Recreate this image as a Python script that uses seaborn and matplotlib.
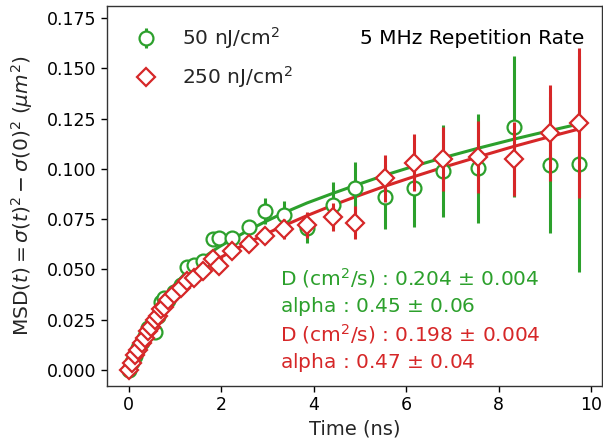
import numpy as np
import pandas as pd
import matplotlib
matplotlib.use("Agg")
import matplotlib.pyplot as plt
from matplotlib.lines import Line2D
import seaborn as sns

# ---- data ----
time_ns = [0.00, 0.07, 0.14, 0.21, 0.28, 0.35, 0.42, 0.49, 0.56, 0.63, 0.70, 0.77,
           0.84, 0.98, 1.12, 1.26, 1.40, 1.61, 1.82, 1.96, 2.24, 2.59, 2.94, 3.36,
           3.85, 4.41, 4.90, 5.53, 6.16, 6.79, 7.56, 8.33, 9.10, 9.73]

msd_50 = [0.000, 0.004, 0.007, 0.011, 0.014, 0.017, 0.021, 0.022, 0.019, 0.027, 0.034, 0.036,
          0.035, 0.039, 0.042, 0.051, 0.052, 0.054, 0.065, 0.0655, 0.0655, 0.071, 0.079, 0.077,
          0.0704, 0.082, 0.0903, 0.0859, 0.0903, 0.0991, 0.1003, 0.121, 0.1019, 0.1024]
err_50 = [0.000, 0.001, 0.001, 0.001, 0.001, 0.001, 0.001, 0.001, 0.001, 0.001, 0.0015, 0.0015,
          0.0015, 0.002, 0.002, 0.002, 0.002, 0.002, 0.003, 0.003, 0.003, 0.0036, 0.0063, 0.0071,
          0.0075, 0.0114, 0.0133, 0.0158, 0.019, 0.0229, 0.0271, 0.0351, 0.0339, 0.0537]

msd_250 = [0.000, 0.0035, 0.0075, 0.010, 0.0135, 0.016, 0.0195, 0.0215, 0.025, 0.027, 0.0305, 0.0315,
           0.035, 0.038, 0.0405, 0.044, 0.0455, 0.049, 0.055, 0.0515, 0.059, 0.0625, 0.0665, 0.070,
           0.072, 0.076, 0.0733, 0.0953, 0.1031, 0.1048, 0.1061, 0.1048, 0.1177, 0.1228]
err_250 = [0.000, 0.001, 0.001, 0.001, 0.001, 0.001, 0.001, 0.001, 0.001, 0.001, 0.001, 0.001,
           0.001, 0.0015, 0.0015, 0.0015, 0.002, 0.002, 0.002, 0.002, 0.003, 0.003, 0.004, 0.005,
           0.0066, 0.007, 0.0083, 0.0116, 0.0143, 0.016, 0.0179, 0.0185, 0.0239, 0.0373]

fit_50 = [0.000, 0.0037, 0.0074, 0.011, 0.0144, 0.0177, 0.021, 0.024, 0.027, 0.0298, 0.0325, 0.035,
          0.0374, 0.0418, 0.0456, 0.049, 0.052, 0.0558, 0.0592, 0.0613, 0.065, 0.0695, 0.0736, 0.0782,
          0.0830, 0.0878, 0.0918, 0.0968, 0.1013, 0.1055, 0.1103, 0.1148, 0.1190, 0.1223]
fit_250 = [0.000, 0.0035, 0.007, 0.0103, 0.0135, 0.0165, 0.0195, 0.0223, 0.025, 0.0275, 0.030, 0.0323,
           0.0345, 0.0385, 0.0418, 0.0448, 0.0474, 0.0507, 0.0537, 0.0556, 0.0592, 0.0634, 0.0674, 0.0718,
           0.0767, 0.0819, 0.0861, 0.0913, 0.0961, 0.1007, 0.106, 0.1112, 0.116, 0.1198]

labels = ["50 nJ/cm$^2$", "250 nJ/cm$^2$"]
fit_text = ["D (cm$^2$/s) : 0.204 $\\pm$ 0.004", "alpha : 0.45 $\\pm$ 0.06",
            "D (cm$^2$/s) : 0.198 $\\pm$ 0.004", "alpha : 0.47 $\\pm$ 0.04"]
title_text = "5 MHz Repetition Rate"

GREEN = "#2ca02c"
RED = "#d62728"

sns.set_style("ticks")
plt.rcParams["font.family"] = ["DejaVu Sans"]
plt.rcParams["mathtext.fontset"] = "dejavusans"

fig = plt.figure(figsize=(6.03, 4.44), dpi=100)
ax = fig.add_axes([107/603, 58/444, 495/603, 380/444])

fits = pd.DataFrame({"t": time_ns * 2,
                     "msd": fit_50 + fit_250,
                     "series": ["50"] * len(time_ns) + ["250"] * len(time_ns)})
sns.lineplot(data=fits, x="t", y="msd", hue="series", palette={"50": GREEN, "250": RED},
             lw=2.2, legend=False, ax=ax, zorder=2, sort=False)

eb50 = ax.errorbar(time_ns, msd_50, yerr=err_50, fmt="o", ms=10, mfc="white", mec=GREEN,
                   mew=1.6, ecolor=GREEN, elinewidth=2.2, capsize=0, zorder=3, color=GREEN)
eb250 = ax.errorbar(time_ns, msd_250, yerr=err_250, fmt="D", ms=9.5, mfc="white", mec=RED,
                    mew=1.6, ecolor=RED, elinewidth=2.2, capsize=0, zorder=4, color=RED)

h250 = Line2D([], [], ls="none", marker="D", ms=9.5, mfc="white", mec=RED, mew=1.6)
ax.legend([eb50, h250], labels, loc="upper left", frameon=False, fontsize=14.5,
          labelspacing=0.65, handletextpad=0.75, bbox_to_anchor=(0.0, 1.0),
          borderaxespad=0.55)

ax.text(0.965, 0.915, title_text, transform=ax.transAxes, ha="right", va="center",
        fontsize=14.5, color="black")
cols = [GREEN, GREEN, RED, RED]
ys = [278, 306, 334, 362]
for s, c, yp in zip(fit_text, cols, ys):
    ax.text((280 - 107) / 495, (386 - yp) / 380, s, transform=ax.transAxes, ha="left",
            va="center", fontsize=14.5, color=c)

ax.set_xlim(-0.47, 10.23)
ax.set_ylim(-0.008, 0.181)
ax.set_xticks([0, 2, 4, 6, 8, 10])
ax.set_yticks([0.0, 0.025, 0.05, 0.075, 0.1, 0.125, 0.15, 0.175])
ax.yaxis.set_major_formatter(matplotlib.ticker.FormatStrFormatter("%.3f"))
ax.tick_params(labelsize=12.5, length=4, width=1, colors="black")
ax.set_xlabel("Time (ns)", fontsize=14)
ax.set_ylabel(r"MSD$(t) = \sigma(t)^2 - \sigma(0)^2$ $(\mu m^2)$", fontsize=14.5, labelpad=9)
for sp in ax.spines.values():
    sp.set_color("#333333")
    sp.set_linewidth(1.0)

fig.savefig("out.png", dpi=100)
